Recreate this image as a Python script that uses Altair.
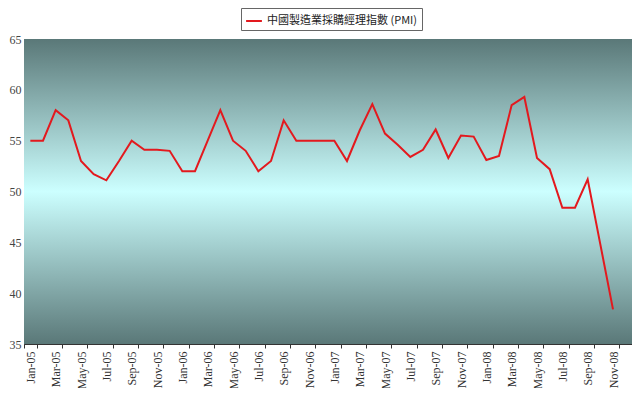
import altair as alt
import pandas as pd

months = [
    "Jan-05", "Feb-05", "Mar-05", "Apr-05", "May-05", "Jun-05", "Jul-05", "Aug-05", "Sep-05", "Oct-05", "Nov-05", "Dec-05",
    "Jan-06", "Feb-06", "Mar-06", "Apr-06", "May-06", "Jun-06", "Jul-06", "Aug-06", "Sep-06", "Oct-06", "Nov-06", "Dec-06",
    "Jan-07", "Feb-07", "Mar-07", "Apr-07", "May-07", "Jun-07", "Jul-07", "Aug-07", "Sep-07", "Oct-07", "Nov-07", "Dec-07",
    "Jan-08", "Feb-08", "Mar-08", "Apr-08", "May-08", "Jun-08", "Jul-08", "Aug-08", "Sep-08", "Oct-08", "Nov-08", "Dec-08",
]
pmi = [
    55.0, 55.0, 58.0, 57.0, 53.0, 51.7, 51.1, 53.0, 55.0, 54.1, 54.1, 54.0,
    52.0, 52.0, 55.0, 58.0, 55.0, 54.0, 52.0, 53.0, 57.0, 55.0, 55.0, 55.0,
    55.0, 53.0, 56.0, 58.6, 55.7, 54.6, 53.4, 54.1, 56.1, 53.3, 55.5, 55.4,
    53.1, 53.5, 58.5, 59.3, 53.3, 52.2, 48.4, 48.4, 51.2, 44.8, 38.4,
]
series_name = "中國製造業採購經理指數 (PMI)"
label_months = months[::2]
y_ticks = [35, 40, 45, 50, 55, 60, 65]

df = pd.DataFrame({
    "month": months[:len(pmi)],
    "pmi": pmi,
    "series": [series_name] * len(pmi),
})

xscale = alt.Scale(domain=months, paddingInner=0, paddingOuter=0)
yscale = alt.Scale(domain=[35, 65], nice=False, zero=False)

serif = "Liberation Serif"

bg = alt.Chart(df).mark_rect(
    color=alt.LinearGradient(
        gradient="linear", x1=0, x2=0, y1=0, y2=1,
        stops=[
            alt.GradientStop(color="#5a7878", offset=0),
            alt.GradientStop(color="#ccffff", offset=0.5),
            alt.GradientStop(color="#5a7878", offset=1),
        ],
    )
).encode(
    x=alt.value(0), x2=alt.value("width"), y=alt.value(0), y2=alt.value("height")
)

line = alt.Chart(df).mark_line(strokeWidth=2).encode(
    x=alt.X("month:O", scale=xscale, sort=months, title=None,
            axis=alt.Axis(values=label_months, labelAngle=-90, labelFont=serif,
                          labelFontSize=12, labelColor="#333333", tickBand="extent",
                          tickSize=4, tickColor="#333333", domainColor="#333333",
                          labelPadding=3, grid=False)),
    y=alt.Y("pmi:Q", scale=yscale, title=None,
            axis=alt.Axis(values=y_ticks, labelFont=serif, labelFontSize=12,
                          labelColor="#444444", ticks=False, domainColor="#333333",
                          gridColor="#3c4c4c", gridOpacity=1, gridWidth=1, labelPadding=3)),
    color=alt.Color("series:N", scale=alt.Scale(range=["#e3191e"]), title=None,
                    legend=alt.Legend(orient="none", legendX=217, legendY=-31,
                                      symbolType="stroke", symbolStrokeWidth=2,
                                      symbolSize=250, labelFont="Noto Sans CJK TC",
                                      labelFontSize=11, labelColor="#222222",
                                      strokeColor="#666666", padding=4,
                                      fillColor="white", labelLimit=300)),
)

chart = alt.layer(bg, line).properties(
    width=608, height=305,
    padding={"left": 16, "top": 31, "right": 0, "bottom": 44},
    autosize=alt.AutoSizeParams(type="none"),
).configure_view(stroke="#333333", strokeWidth=1).configure(background="white")

chart.save("out.html", embed_options={"renderer": "svg", "actions": False})
